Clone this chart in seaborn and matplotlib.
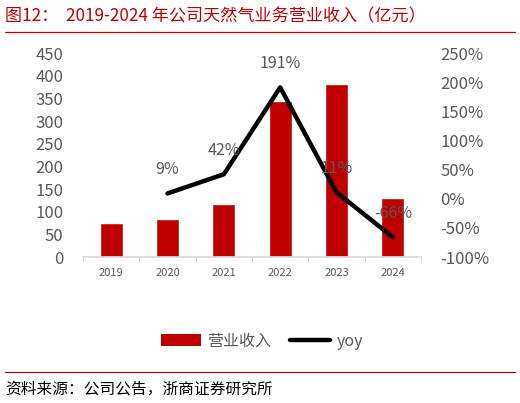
import numpy as np
import pandas as pd
import seaborn as sns
import matplotlib.pyplot as plt
from matplotlib.lines import Line2D
from matplotlib.patches import Patch

# data
years = ["2019", "2020", "2021", "2022", "2023", "2024"]
revenue = [76, 83, 118, 344, 382, 131]          # 亿元
yoy = [np.nan, 9, 42, 191, 11, -66]             # %

sns.set_theme(style="white")
plt.rcParams['font.family'] = ['Noto Sans CJK SC', 'DejaVu Sans']

df = pd.DataFrame({"year": years, "revenue": revenue, "yoy": yoy})

fig = plt.figure(figsize=(5.2, 4.03), dpi=100)
ax = fig.add_axes([83 / 520, 1 - 257 / 403, 338 / 520, 204 / 403])

sns.barplot(data=df, x="year", y="revenue", color="#C00000", width=0.41,
            saturation=1, ax=ax)
ax.set_xlim(-0.5, 5.5)
ax.set_ylim(0, 450)
ax.set_yticks(range(0, 451, 50))
ax.set_xlabel("")
ax.set_ylabel("")
gray = "#595959"
ax.tick_params(axis="y", labelsize=12, colors=gray, length=0, pad=14)
ax.tick_params(axis="x", labelsize=8, colors=gray, length=0, pad=8)
for s in ["top", "right", "left"]:
    ax.spines[s].set_visible(False)
ax.spines["bottom"].set_color("#D9D9D9")
# excel-style tick marks between categories
for xb in np.arange(-0.5, 6, 1):
    ax.plot([xb, xb], [0, -8], color="#D9D9D9", lw=0.8, clip_on=False)

ax2 = ax.twinx()
sns.lineplot(data=df.dropna(), x="year", y="yoy", color="black", lw=3.2,
             ax=ax2, sort=False)
ax2.set_ylim(-100, 250)
ax2.set_yticks(range(-100, 251, 50))
ax2.set_yticklabels([f"{v}%" for v in range(-100, 251, 50)])
ax2.set_ylabel("")
ax2.set_xlabel("")
ax2.tick_params(axis="y", labelsize=12, colors=gray, length=0, pad=14)
for s in ["top", "right", "left", "bottom"]:
    ax2.spines[s].set_visible(False)

for i, v in enumerate(yoy):
    if np.isnan(v):
        continue
    ax2.annotate(f"{v:.0f}%", (i, v), xytext=(0, 17), textcoords="offset points",
                 ha="center", va="center", fontsize=11.5, color=gray)

# legend
handles = [Patch(facecolor="#C00000", edgecolor="none"),
           Line2D([], [], color="black", lw=3.2)]
leg = fig.legend(handles, ["营业收入", "yoy"], loc="center",
                 bbox_to_anchor=(262 / 520, 1 - 341 / 403), ncol=2, frameon=False,
                 fontsize=11.5, handlelength=2.5, columnspacing=1.2, handletextpad=0.4)
for t in leg.get_texts():
    t.set_color(gray)

# title, rules and source
red = "#C00000"
fig.text(5 / 520, 1 - 16 / 403, "图12：  2019-2024 年公司天然气业务营业收入（亿元）",
         fontsize=12.3, color=red, ha="left", va="center")
fig.add_artist(Line2D([5 / 520, 515 / 520], [1 - 32 / 403, 1 - 32 / 403],
                      color=red, lw=0.9))
fig.add_artist(Line2D([5 / 520, 515 / 520], [1 - 372 / 403, 1 - 372 / 403],
                      color=red, lw=0.9))
fig.text(5 / 520, 1 - 389 / 403, "资料来源：公司公告，浙商证券研究所",
         fontsize=11.3, color="black", ha="left", va="center")

fig.savefig("out.png", dpi=100)
